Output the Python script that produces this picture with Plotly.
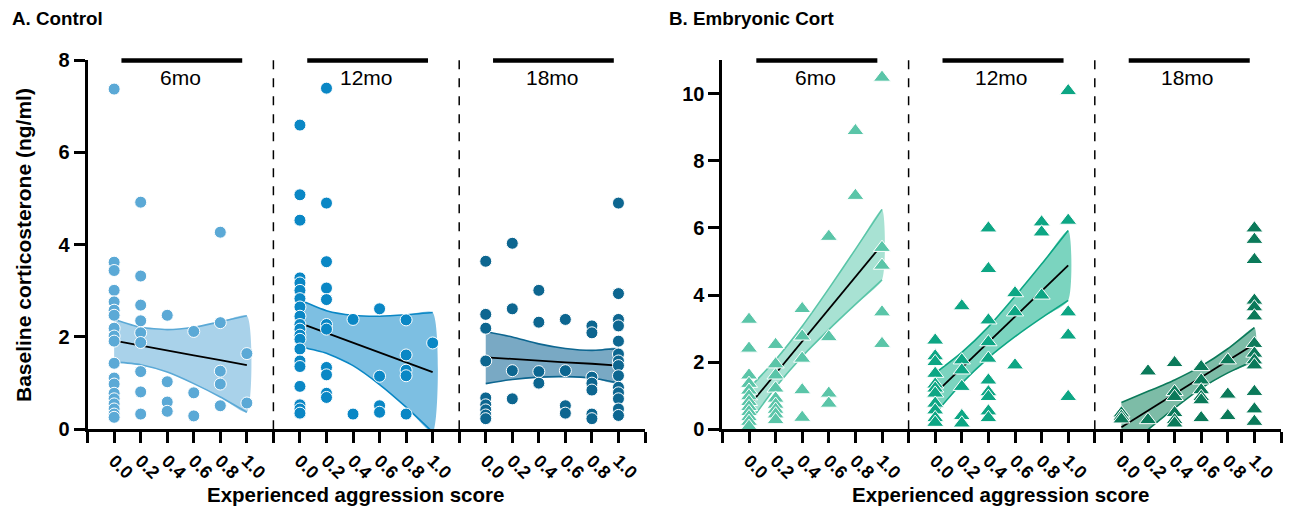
import plotly.graph_objects as go

# ---------------- data ----------------
score_levels = [0.0, 0.2, 0.4, 0.6, 0.8, 1.0]
score_labels = ["0.0", "0.2", "0.4", "0.6", "0.8", "1.0"]
age_labels = ["6mo", "12mo", "18mo"]
group_titles = ["A. Control", "B. Embryonic Cort"]
y_title = "Baseline corticosterone (ng/ml)"
x_title = "Experienced aggression score"

# baseline corticosterone per aggression-score level (one inner list per level)
ctrl_6mo = [
    [7.37, 3.62, 3.44, 3.01, 2.76, 2.58, 2.47, 2.19, 2.02, 1.91, 1.43, 1.11, 0.98, 0.78, 0.66, 0.55, 0.44, 0.33, 0.26],
    [4.92, 3.32, 2.69, 2.35, 2.09, 1.88, 1.25, 0.81, 0.33],
    [2.47, 1.03, 0.59, 0.39],
    [2.12, 0.79, 0.29],
    [4.27, 2.31, 1.26, 0.98, 0.51],
    [1.64, 0.57],
]
ctrl_12mo = [
    [6.59, 5.08, 4.53, 3.28, 3.17, 3.01, 2.83, 2.65, 2.45, 2.27, 2.17, 2.04, 1.95, 1.74, 1.48, 1.36, 0.93, 0.53, 0.44, 0.35],
    [7.39, 4.90, 3.63, 3.06, 2.81, 2.27, 2.17, 1.34, 1.18, 0.78, 0.69],
    [2.38, 0.33],
    [2.61, 1.15, 0.51, 0.37],
    [2.37, 1.61, 1.28, 1.16, 0.33],
    [1.87],
]
ctrl_18mo = [
    [3.64, 2.49, 2.19, 1.48, 0.68, 0.53, 0.42, 0.31, 0.23],
    [4.03, 2.61, 1.27, 0.66],
    [3.01, 2.32, 1.25, 1.00],
    [2.38, 1.27, 0.51, 0.35],
    [2.24, 2.09, 1.13, 1.00, 0.85, 0.33, 0.23],
    [4.90, 2.94, 2.38, 2.24, 1.91, 1.63, 1.48, 1.38, 1.16, 0.91, 0.79, 0.66, 0.44, 0.30],
]
cort_6mo = [
    [3.27, 2.41, 1.61, 1.36, 1.16, 0.99, 0.82, 0.67, 0.52, 0.37, 0.23, 0.08],
    [2.52, 1.94, 1.61, 1.22, 0.92, 0.74, 0.59, 0.45, 0.28],
    [3.59, 2.77, 2.11, 1.17, 0.35],
    [5.74, 2.75, 1.07, 0.77],
    [8.89, 6.96],
    [10.48, 5.41, 4.88, 3.49, 2.55],
]
cort_12mo = [
    [2.65, 2.18, 2.01, 1.66, 1.34, 1.22, 1.07, 0.77, 0.57, 0.34, 0.20],
    [3.67, 2.06, 1.76, 1.27, 0.40, 0.18],
    [5.99, 4.78, 3.25, 2.60, 2.11, 1.46, 1.11, 0.97, 0.54, 0.34],
    [4.06, 3.49, 1.91],
    [6.17, 5.87, 3.99],
    [10.08, 6.22, 3.49, 2.80, 0.97],
]
cort_18mo = [
    [0.48, 0.38, 0.30],
    [1.73, 0.28],
    [1.98, 1.12, 0.97, 0.49, 0.28, 0.18],
    [1.86, 1.46, 1.17, 0.97, 0.87, 0.34],
    [2.06, 1.04, 0.40],
    [5.99, 5.65, 5.05, 3.84, 3.64, 3.37, 2.55, 2.26, 2.06, 1.91, 1.12, 0.60, 0.23],
]

# regression line and 95% confidence band, read at the score levels
fit_x = [0.0, 0.2, 0.4, 0.6, 0.8, 1.0]
ctrl_6mo_fit = [1.92, 1.81, 1.71, 1.60, 1.50, 1.39]
ctrl_6mo_lo = [1.46, 1.40, 1.24, 0.99, 0.70, 0.37]
ctrl_6mo_hi = [2.38, 2.21, 2.16, 2.21, 2.33, 2.46]
ctrl_12mo_fit = [2.30, 2.09, 1.88, 1.66, 1.45, 1.24]
ctrl_12mo_lo = [1.79, 1.65, 1.38, 0.97, 0.48, -0.06]
ctrl_12mo_hi = [2.80, 2.57, 2.47, 2.45, 2.48, 2.53]
ctrl_18mo_fit = [1.56, 1.52, 1.49, 1.45, 1.42, 1.38]
ctrl_18mo_lo = [0.99, 1.08, 1.13, 1.14, 1.11, 1.00]
ctrl_18mo_hi = [2.12, 2.00, 1.85, 1.75, 1.71, 1.75]
cort_6mo_fit = [0.70, 1.66, 2.62, 3.58, 4.54, 5.50]
cort_6mo_lo = [0.18, 1.25, 2.17, 2.97, 3.72, 4.45]
cort_6mo_hi = [1.22, 2.07, 3.07, 4.19, 5.36, 6.55]
cort_12mo_fit = [1.07, 1.83, 2.59, 3.36, 4.12, 4.88]
cort_12mo_lo = [0.47, 1.37, 2.13, 2.76, 3.32, 3.84]
cort_12mo_hi = [1.67, 2.29, 3.05, 3.96, 4.92, 5.92]
cort_18mo_fit = [0.06, 0.56, 1.05, 1.55, 2.04, 2.54]
cort_18mo_lo = [-0.68, -0.01, 0.63, 1.22, 1.68, 2.05]
cort_18mo_hi = [0.80, 1.13, 1.47, 1.88, 2.40, 3.03]

# ---------------- styling ----------------
FONT = "Liberation Sans"
W, H = 1292, 512
panel_offsets = [0.0, 1.4, 2.8]       # each age block shifted along the shared axis
x_range = [-0.2, 4.0]
y_ranges = [[0, 8], [0, 11]]
y_ticks = [[0, 2, 4, 6, 8], [0, 2, 4, 6, 8, 10]]

groups = [
    dict(xa="x", ya="y", symbol="circle", size=12,
         series=[(ctrl_6mo, ctrl_6mo_fit, ctrl_6mo_lo, ctrl_6mo_hi, "#5BA9D6", "#A9D2EA"),
                 (ctrl_12mo, ctrl_12mo_fit, ctrl_12mo_lo, ctrl_12mo_hi, "#0A87C5", "#7DBFE2"),
                 (ctrl_18mo, ctrl_18mo_fit, ctrl_18mo_lo, ctrl_18mo_hi, "#0D6690", "#79A9C4")]),
    dict(xa="x2", ya="y2", symbol="triangle-up", size=15,
         series=[(cort_6mo, cort_6mo_fit, cort_6mo_lo, cort_6mo_hi, "#5AC5A8", "#A8E2D3"),
                 (cort_12mo, cort_12mo_fit, cort_12mo_lo, cort_12mo_hi, "#0DA684", "#7BD4BF"),
                 (cort_18mo, cort_18mo_fit, cort_18mo_lo, cort_18mo_hi, "#0B7A5A", "#7DBCA7")]),
]

fig = go.Figure()

for g in groups:
    for p, (vals, fit, lo, hi, col, band) in enumerate(g["series"]):
        off = panel_offsets[p]
        bx = [off + s for s in fit_x]
        # confidence band fill
        fig.add_trace(go.Scatter(
            x=bx + bx[::-1], y=hi + lo[::-1], fill="toself", fillcolor=band,
            mode="lines", line=dict(width=0, shape="spline", smoothing=0.6),
            xaxis=g["xa"], yaxis=g["ya"], hoverinfo="skip"))
        for edge in (hi, lo):
            fig.add_trace(go.Scatter(
                x=bx, y=edge, mode="lines",
                line=dict(color=col, width=1.6, shape="spline", smoothing=0.6),
                xaxis=g["xa"], yaxis=g["ya"], hoverinfo="skip"))
        fig.add_trace(go.Scatter(
            x=bx, y=fit, mode="lines", line=dict(color="black", width=1.8),
            xaxis=g["xa"], yaxis=g["ya"], hoverinfo="skip"))
        xs, ys = [], []
        for s, col_vals in zip(score_levels, vals):
            for v in col_vals:
                xs.append(off + s)
                ys.append(v)
        fig.add_trace(go.Scatter(
            x=xs, y=ys, mode="markers", cliponaxis=False,
            marker=dict(symbol=g["symbol"], size=g["size"], color=col,
                        line=dict(color="white", width=1)),
            xaxis=g["xa"], yaxis=g["ya"]))

# shared x ticks: every 0.2 step, labels only on score positions
tick_vals, tick_text = [], []
n_steps = int(round((x_range[1] - x_range[0]) / 0.2)) + 1
for i in range(n_steps):
    v = round(x_range[0] + 0.2 * i, 4)
    label = ""
    for off in panel_offsets:
        for s, lab in zip(score_levels, score_labels):
            if abs(v - (off + s)) < 1e-6:
                label = lab
    tick_vals.append(v)
    tick_text.append(label)

x_domains = [[87.6 / W, 645.0 / W], [722.4 / W, 1281.0 / W]]
y_domain = [1 - 429.3 / H, 1 - 60.0 / H]

axis_common = dict(showline=True, linecolor="black", linewidth=3, ticks="outside",
                   ticklen=11, tickwidth=2.5, tickcolor="black", showgrid=False,
                   zeroline=False, fixedrange=True, automargin=False)

layout = dict(
    width=W, height=H, margin=dict(l=0, r=0, t=0, b=0, autoexpand=False),
    paper_bgcolor="white", plot_bgcolor="white", showlegend=False,
    font=dict(family=FONT, color="black"),
)
for k, suffix in enumerate(["", "2"]):
    layout["xaxis" + suffix] = dict(
        axis_common, domain=x_domains[k], range=x_range, tickvals=tick_vals,
        ticktext=tick_text, tickangle=45, anchor="y" + suffix,
        tickfont=dict(family=FONT, size=18, weight="bold", color="black"))
    layout["yaxis" + suffix] = dict(
        axis_common, domain=y_domain, range=y_ranges[k], tickvals=y_ticks[k],
        anchor="x" + suffix,
        tickfont=dict(family=FONT, size=20, weight="bold", color="black"))
fig.update_layout(**layout)

shapes, annotations = [], []
bar_y = 1 - 60.5 / H
label_y = 1 - 77.0 / H
for k, suffix in enumerate(["", "2"]):
    xa = "x" + suffix
    ya = "y" + suffix
    for p, off in enumerate(panel_offsets):
        if p > 0:
            shapes.append(dict(type="line", xref=xa, yref=ya, x0=off - 0.2, x1=off - 0.2,
                               y0=y_ranges[k][0], y1=y_ranges[k][1],
                               line=dict(color="black", width=1.5, dash="dash")))
        shapes.append(dict(type="line", xref=xa, yref="paper", x0=off + 0.055, x1=off + 0.965,
                           y0=bar_y, y1=bar_y, line=dict(color="black", width=4.5)))
        annotations.append(dict(text=age_labels[p], xref=xa, yref="paper", x=off + 0.5,
                                y=label_y, showarrow=False, xanchor="center", yanchor="middle",
                                font=dict(family=FONT, size=21, color="black")))

annotations.append(dict(text=group_titles[0], xref="paper", yref="paper", x=10 / W, y=1 - 18 / H,
                        xanchor="left", yanchor="middle", showarrow=False,
                        font=dict(family=FONT, size=18.8, weight="bold")))
annotations.append(dict(text=group_titles[1], xref="paper", yref="paper", x=667 / W, y=1 - 18 / H,
                        xanchor="left", yanchor="middle", showarrow=False,
                        font=dict(family=FONT, size=18.8, weight="bold")))
annotations.append(dict(text=y_title, xref="paper", yref="paper", x=23 / W, y=1 - 245 / H,
                        textangle=-90, xanchor="center", yanchor="middle", showarrow=False,
                        font=dict(family=FONT, size=21, weight="bold")))
annotations.append(dict(text=x_title, xref="paper", yref="paper", x=355 / W, y=1 - 494 / H,
                        xanchor="center", yanchor="middle", showarrow=False,
                        font=dict(family=FONT, size=20.5, weight="bold")))
annotations.append(dict(text=x_title, xref="paper", yref="paper", x=1001 / W, y=1 - 494 / H,
                        xanchor="center", yanchor="middle", showarrow=False,
                        font=dict(family=FONT, size=20.5, weight="bold")))

fig.update_layout(shapes=shapes, annotations=annotations)
fig.write_html("out.html")
